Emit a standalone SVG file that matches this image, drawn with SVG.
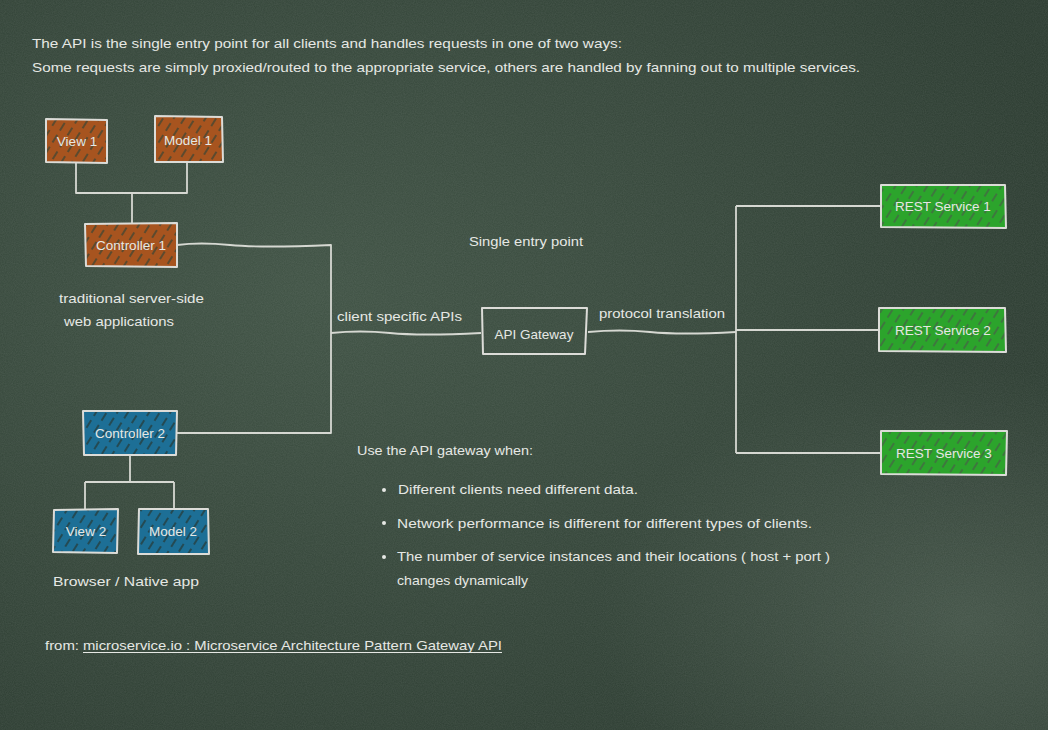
<svg xmlns="http://www.w3.org/2000/svg" width="1048" height="730" viewBox="0 0 1048 730">
  <defs>
    <radialGradient id="bgA" cx="0.3" cy="0.4" r="0.75">
      <stop offset="0" stop-color="#3f5244"/>
      <stop offset="1" stop-color="#2b3b30"/>
    </radialGradient>
    <radialGradient id="bgB" cx="0.92" cy="0.85" r="0.35">
      <stop offset="0" stop-color="#5a6b5e" stop-opacity="0.5"/>
      <stop offset="1" stop-color="#5a6b5e" stop-opacity="0"/>
    </radialGradient>
    <filter id="grain" x="0" y="0" width="100%" height="100%">
      <feTurbulence type="fractalNoise" baseFrequency="0.9" numOctaves="2" seed="3"/>
      <feColorMatrix type="matrix" values="0 0 0 0 1  0 0 0 0 1  0 0 0 0 1  0 0 0 0.09 0"/>
    </filter>
    <pattern id="hatchBrown" patternUnits="userSpaceOnUse" width="9" height="14" patternTransform="rotate(32)">
      <rect width="9" height="14" fill="#a7541f"/>
      <line x1="3" y1="0" x2="3" y2="9" stroke="#2f4236" stroke-width="1.5" opacity="0.85"/>
    </pattern>
    <pattern id="hatchBlue" patternUnits="userSpaceOnUse" width="9" height="14" patternTransform="rotate(32)">
      <rect width="9" height="14" fill="#1d6f96"/>
      <line x1="3" y1="0" x2="3" y2="9" stroke="#26332b" stroke-width="1.5" opacity="0.85"/>
    </pattern>
    <pattern id="hatchGreen" patternUnits="userSpaceOnUse" width="9" height="14" patternTransform="rotate(32)">
      <rect width="9" height="14" fill="#2ca42c"/>
      <line x1="3" y1="0" x2="3" y2="9" stroke="#485848" stroke-width="1.5" opacity="0.8"/>
    </pattern>
    <style>
      text { font-family: "Liberation Sans", Arial, sans-serif; fill: #e6e8e4; }
      .t { font-size: 13.5px; }
      .n { font-size: 13.5px; text-anchor: middle; }
      .box { stroke: #dcdcd8; stroke-width: 2; stroke-linejoin: round; }
      .wire { fill: none; stroke: #d6d8d2; stroke-width: 1.8; stroke-linejoin: round; }
    </style>
  </defs>

  <rect width="1048" height="730" fill="url(#bgA)"/>
  <rect width="1048" height="730" fill="url(#bgB)"/>
  <rect width="1048" height="730" filter="url(#grain)"/>

  <g id="connectors">
    <path class="wire" d="M76,163 V193 H187 V162"/>
    <path class="wire" d="M132,193 V223"/>
    <path class="wire" d="M177,245 Q200,242 230,245 T331,245 V433 H177"/>
    <path class="wire" d="M331,333 Q360,330 390,333 T481,333"/>
    <path class="wire" d="M588,332 Q620,329 650,332 T736,332"/>
    <path class="wire" d="M736,206 V453"/>
    <path class="wire" d="M736,206 H881"/>
    <path class="wire" d="M736,330 H879"/>
    <path class="wire" d="M736,453 H880"/>
    <path class="wire" d="M130,455 V482"/>
    <path class="wire" d="M85,482 H174"/>
    <path class="wire" d="M85,482 V509"/>
    <path class="wire" d="M174,482 V509"/>
  </g>

  <g id="view1">
    <path class="box" fill="url(#hatchBrown)" d="M46,119 L107,120 L107,163 L46,162 Z"/>
    <text class="n" x="77" y="146">View 1</text>
  </g>
  <g id="model1">
    <path class="box" fill="url(#hatchBrown)" d="M155,116 L222,117 L223,162 L155,162 Z"/>
    <text class="n" x="188" y="145">Model 1</text>
  </g>
  <g id="controller1">
    <path class="box" fill="url(#hatchBrown)" d="M85,224 L177,223 L177,267 L86,266 Z"/>
    <text class="n" x="131" y="250">Controller 1</text>
  </g>
  <g id="controller2">
    <path class="box" fill="url(#hatchBlue)" d="M83,411 L177,411 L176,455 L84,455 Z"/>
    <text class="n" x="130" y="438">Controller 2</text>
  </g>
  <g id="view2">
    <path class="box" fill="url(#hatchBlue)" d="M54,510 L118,509 L117,553 L53,552 Z"/>
    <text class="n" x="86" y="536">View 2</text>
  </g>
  <g id="model2">
    <path class="box" fill="url(#hatchBlue)" d="M139,509 L208,509 L209,554 L138,554 Z"/>
    <text class="n" x="173" y="536">Model 2</text>
  </g>
  <g id="apiGateway">
    <path class="box" fill="none" d="M482,308 L587,308 L585,354 L483,354 Z"/>
    <text class="n" x="534" y="339">API Gateway</text>
  </g>
  <g id="rest1">
    <path class="box" fill="url(#hatchGreen)" d="M881,185 L1005,185 L1006,228 L881,227 Z"/>
    <text class="n" x="943" y="211">REST Service 1</text>
  </g>
  <g id="rest2">
    <path class="box" fill="url(#hatchGreen)" d="M879,308 L1005,308 L1006,352 L879,351 Z"/>
    <text class="n" x="943" y="335">REST Service 2</text>
  </g>
  <g id="rest3">
    <path class="box" fill="url(#hatchGreen)" d="M881,431 L1007,431 L1006,475 L881,474 Z"/>
    <text class="n" x="944" y="458">REST Service 3</text>
  </g>

  <g id="labels">
    <text class="t" x="32" y="48" textLength="590" lengthAdjust="spacingAndGlyphs">The API is the single entry point for all clients and handles requests in one of two ways:</text>
    <text class="t" x="32" y="72" textLength="828" lengthAdjust="spacingAndGlyphs">Some requests are simply proxied/routed to the appropriate service, others are handled by fanning out to multiple services.</text>
    <text class="t" x="469" y="246" textLength="114" lengthAdjust="spacingAndGlyphs">Single entry point</text>
    <text class="t" x="337" y="321" textLength="125" lengthAdjust="spacingAndGlyphs">client specific APIs</text>
    <text class="t" x="599" y="318" textLength="126" lengthAdjust="spacingAndGlyphs">protocol translation</text>
    <text class="t" x="59" y="303" textLength="145" lengthAdjust="spacingAndGlyphs">traditional server-side</text>
    <text class="t" x="64" y="326" textLength="110" lengthAdjust="spacingAndGlyphs">web applications</text>
    <text class="t" x="53" y="586" textLength="146" lengthAdjust="spacingAndGlyphs">Browser / Native app</text>
    <text class="t" x="357" y="455" textLength="176" lengthAdjust="spacingAndGlyphs">Use the API gateway when:</text>
    <circle cx="384" cy="490" r="2" fill="#e6e8e4"/>
    <circle cx="384" cy="523" r="2" fill="#e6e8e4"/>
    <circle cx="384" cy="557" r="2" fill="#e6e8e4"/>
    <text class="t" x="398" y="494" textLength="240" lengthAdjust="spacingAndGlyphs">Different clients need different data.</text>
    <text class="t" x="397" y="528" textLength="415" lengthAdjust="spacingAndGlyphs">Network performance is different for different types of clients.</text>
    <text class="t" x="397" y="561" textLength="433" lengthAdjust="spacingAndGlyphs">The number of service instances and their locations ( host + port )</text>
    <text class="t" x="397" y="585" textLength="131" lengthAdjust="spacingAndGlyphs">changes dynamically</text>
    <text class="t" x="45" y="650" textLength="34" lengthAdjust="spacingAndGlyphs">from:</text>
    <text class="t" x="83" y="650" textLength="419" lengthAdjust="spacingAndGlyphs">microservice.io : Microservice Architecture Pattern Gateway API</text>
    <line x1="83" y1="652.5" x2="502" y2="652.5" stroke="#e6e8e4" stroke-width="1.2"/>
  </g>
</svg>
